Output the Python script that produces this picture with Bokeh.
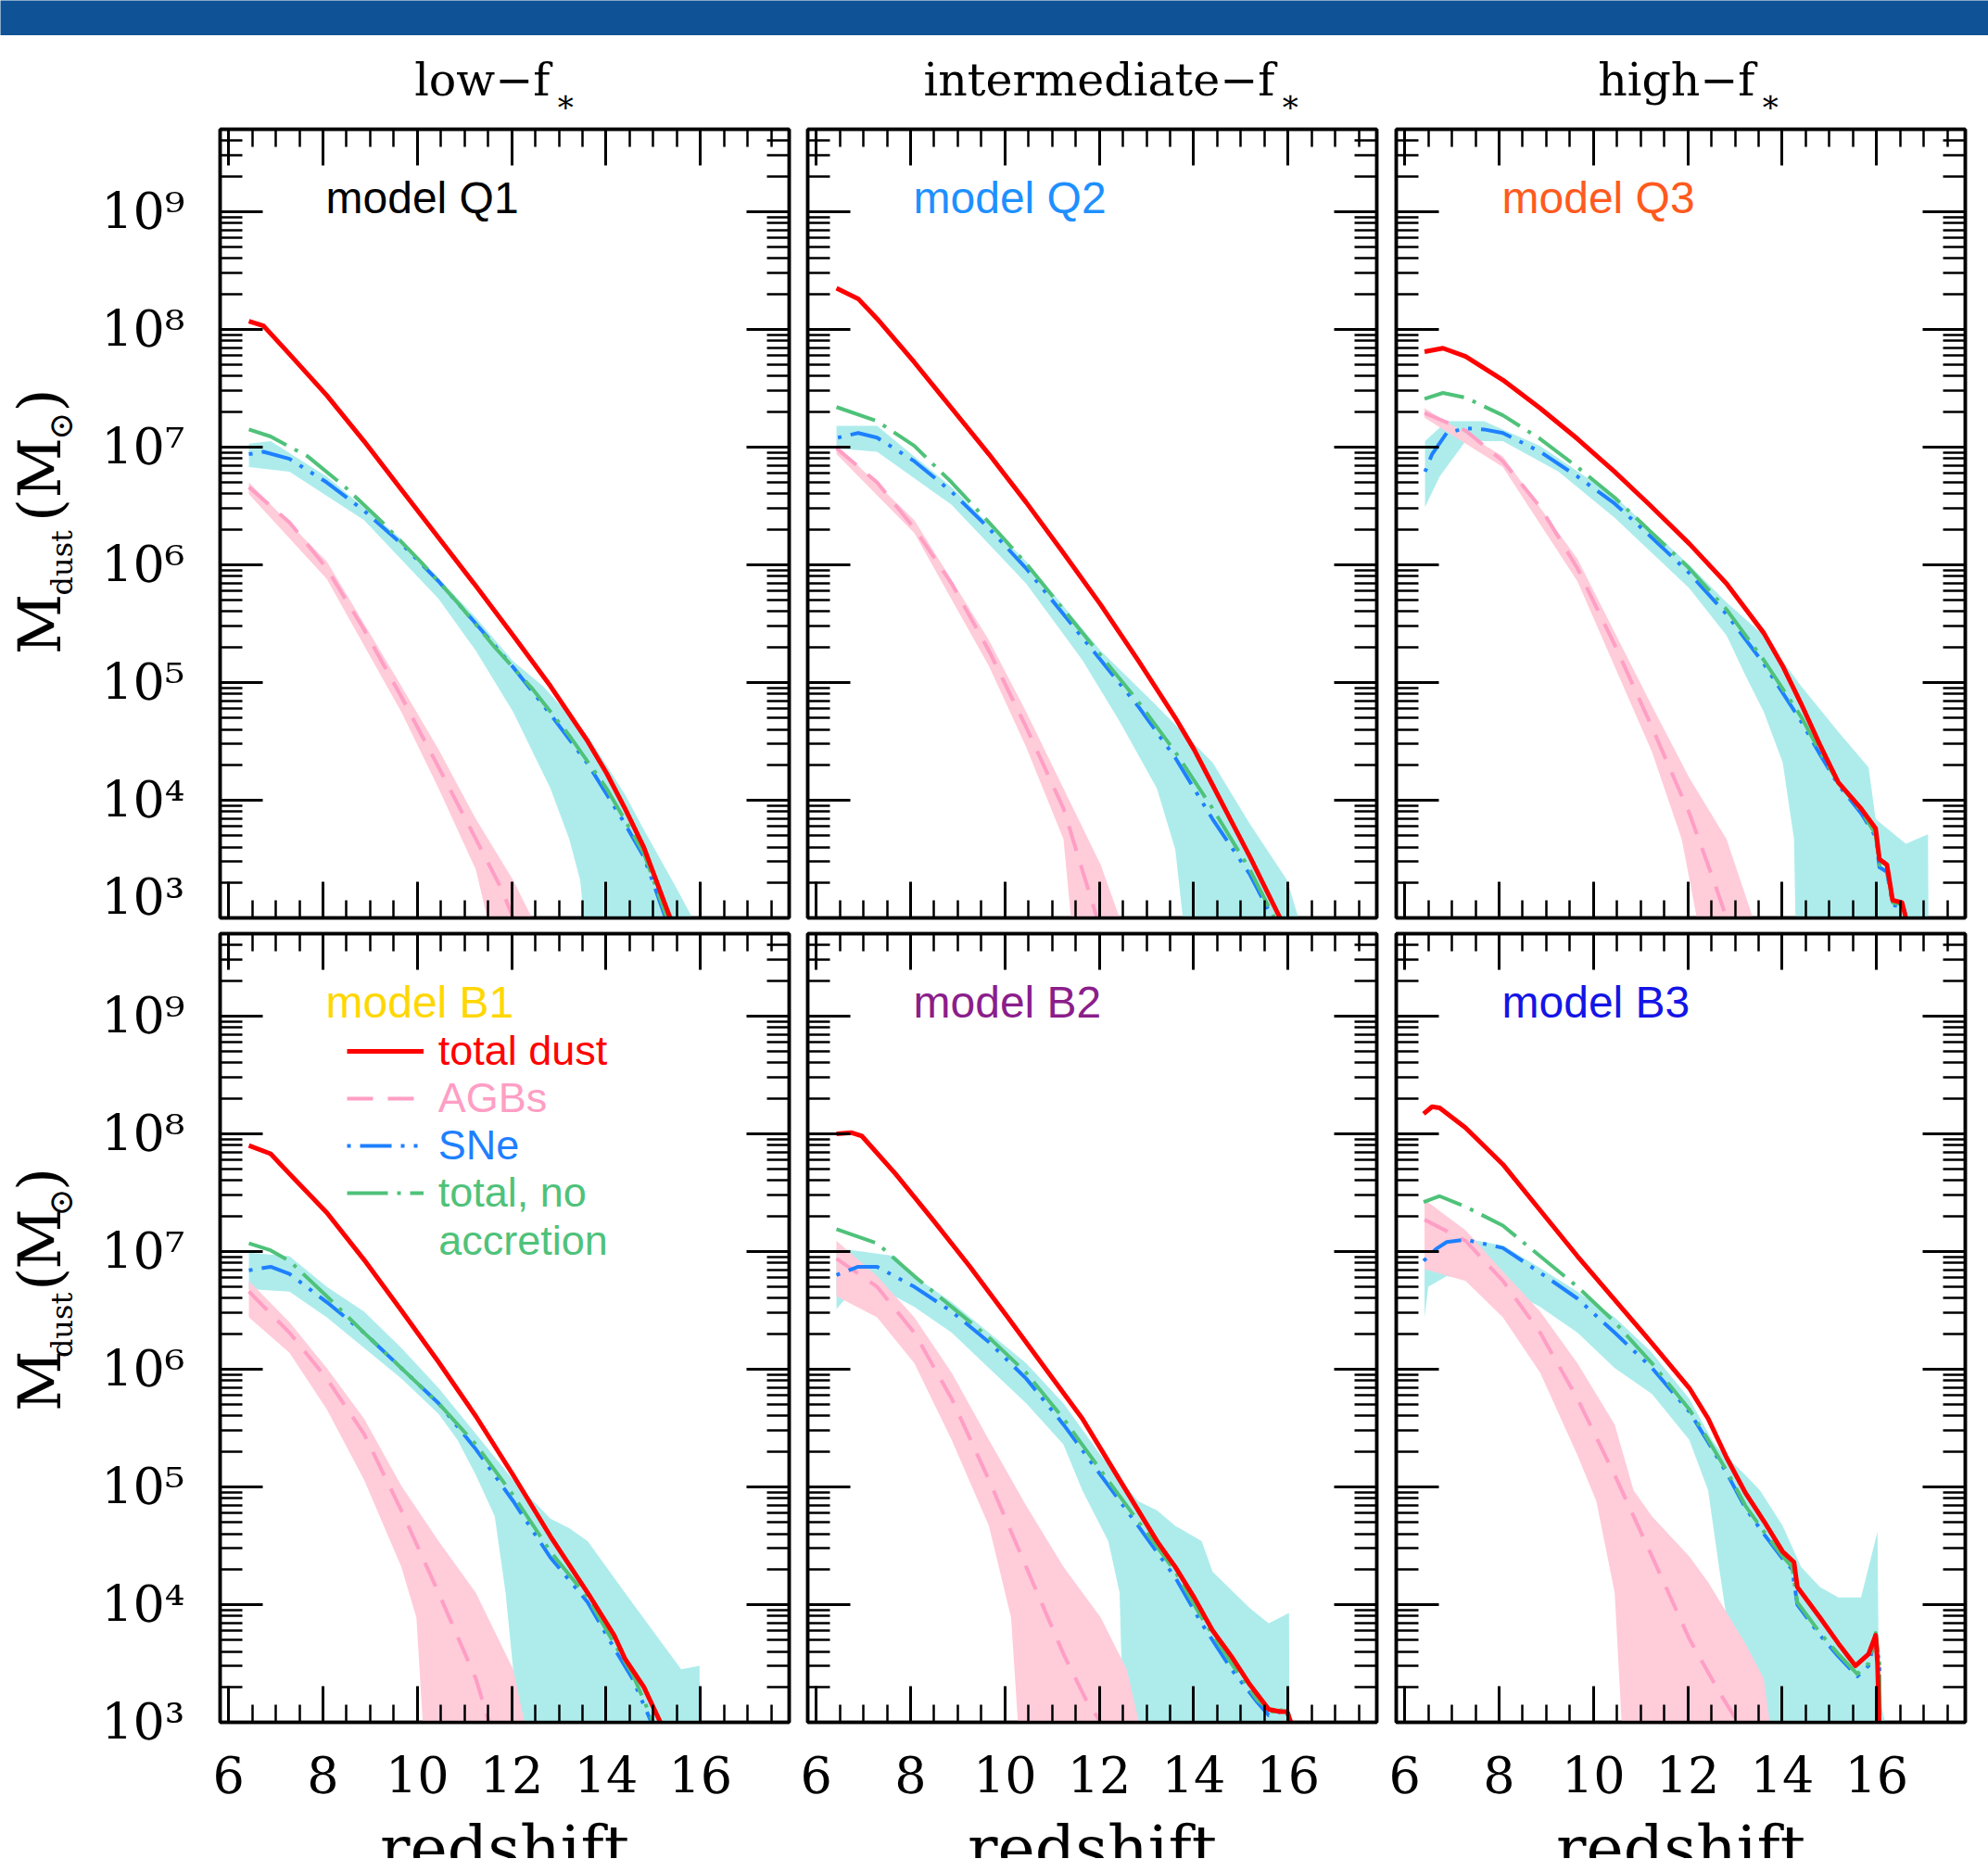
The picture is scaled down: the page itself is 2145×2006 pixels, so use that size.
import numpy as np
from bokeh.plotting import figure
from bokeh.models import (Range1d, LinearAxis, LogAxis, FixedTicker,
                          CustomJSTickFormatter, Label, Legend, LegendItem)
from bokeh.layouts import column, row
from bokeh.embed import file_html
from bokeh.resources import INLINE
from bokeh.core.properties import value

# ---------------- texts / ticks ----------------
COLUMN_TITLES = ["low\u2212f", "intermediate\u2212f", "high\u2212f"]
TITLE_STAR = "\u2217"
MODEL_NAMES = ["model Q1", "model Q2", "model Q3", "model B1", "model B2", "model B3"]
MODEL_COLORS = ["#000000", "#1E90FF", "#FF5A1E", "#FFD700", "#8B1E8B", "#1414E6"]
LEGEND_LABELS = ["total dust", "AGBs", "SNe", "total, no", "accretion"]
X_AXIS_LABEL = "redshift"
Y_LABEL_PARTS = ["M", "dust", "(", "M", "\u2299", ")"]

X_TICKS = [6, 8, 10, 12, 14, 16]
X_MINOR_TICKS = [6.0, 6.5, 7.0, 7.5, 8.0, 8.5, 9.0, 9.5, 10.0, 10.5, 11.0, 11.5,
                 12.0, 12.5, 13.0, 13.5, 14.0, 14.5, 15.0, 15.5, 16.0, 16.5, 17.0, 17.5]
Y_TICK_EXPONENTS = [3, 4, 5, 6, 7, 8, 9]
Y_TICK_LABELS = ["10\u00b3", "10\u2074", "10\u2075", "10\u2076", "10\u2077", "10\u2078", "10\u2079"]

# ---------------- data: (redshift, log10 Mdust/Msun) ----------------
Q1_TOTAL = [(6.43, 8.07), (6.74, 8.03), (7.29, 7.79), (8.08, 7.44), (8.87, 7.05), (9.66, 6.64), (10.45, 6.23),
            (11.24, 5.82), (12.03, 5.40), (12.82, 4.97), (13.61, 4.50), (14.01, 4.23), (14.40, 3.93), (14.80, 3.60),
            (15.45, 2.90)]
Q1_SNE = [(6.43, 6.94), (6.74, 6.96), (7.29, 6.90), (8.08, 6.70), (8.87, 6.46), (9.66, 6.18), (10.45, 5.86),
          (11.24, 5.50), (12.03, 5.13), (12.82, 4.73), (13.61, 4.31), (14.40, 3.80), (14.80, 3.52), (15.35, 2.90)]
Q1_NOACC = [(6.43, 7.15), (6.89, 7.09), (7.68, 6.92), (8.47, 6.66), (9.26, 6.36), (10.06, 6.03), (10.85, 5.68),
            (11.64, 5.30), (12.43, 4.95), (13.22, 4.55), (14.01, 4.10), (14.80, 3.55), (15.38, 2.90)]
Q1_SNE_UP = [(6.43, 7.03), (6.89, 7.05), (8.08, 6.75), (9.66, 6.22), (11.24, 5.55), (12.03, 5.18), (12.66, 4.97),
             (13.61, 4.55), (14.40, 4.05), (14.80, 3.75), (15.51, 3.24), (15.83, 3.00), (15.95, 2.90)]
Q1_SNE_LO = [(6.43, 6.83), (7.29, 6.79), (8.87, 6.38), (10.45, 5.71), (11.24, 5.27), (12.03, 4.75), (12.82, 4.10),
             (13.22, 3.67), (13.45, 3.32), (13.53, 3.00), (13.55, 2.90)]
Q1_AGB = [(6.43, 6.66), (7.29, 6.36), (8.08, 5.97), (8.87, 5.45), (9.66, 4.88), (10.45, 4.28), (11.24, 3.67),
          (11.79, 3.24), (12.03, 3.00), (12.08, 2.90)]
Q1_AGB_UP = [(6.43, 6.70), (8.08, 6.03), (9.66, 4.97), (10.45, 4.43), (11.24, 3.84), (12.03, 3.32), (12.43, 3.00),
             (12.50, 2.90)]
Q1_AGB_LO = [(6.43, 6.60), (8.08, 5.88), (9.66, 4.75), (10.45, 4.10), (11.24, 3.41), (11.48, 3.00), (11.52, 2.90)]

Q2_TOTAL = [(6.43, 8.35), (6.89, 8.26), (7.29, 8.09), (8.08, 7.72), (8.87, 7.33), (9.66, 6.94), (10.45, 6.53),
            (11.24, 6.10), (12.03, 5.66), (12.82, 5.19), (13.61, 4.70), (14.01, 4.43), (14.40, 4.13), (14.80, 3.82),
            (15.19, 3.52), (15.83, 3.00), (15.90, 2.90)]
Q2_NOACC = [(6.43, 7.34), (7.29, 7.22), (8.08, 7.01), (8.87, 6.70), (9.66, 6.36), (10.45, 6.01), (11.24, 5.62),
            (12.03, 5.23), (12.82, 4.84), (13.61, 4.41), (14.40, 3.93), (15.19, 3.41), (15.71, 3.00), (15.78, 2.90)]
Q2_SNE = [(6.46, 7.08), (6.89, 7.12), (7.29, 7.08), (8.08, 6.88), (8.87, 6.62), (9.66, 6.31), (10.45, 5.97),
          (11.24, 5.58), (12.03, 5.19), (12.82, 4.80), (13.61, 4.36), (14.40, 3.84), (15.19, 3.37), (15.67, 3.00),
          (15.74, 2.90)]
Q2_SNE_UP = [(6.43, 7.18), (7.29, 7.18), (8.87, 6.66), (10.45, 6.03), (12.03, 5.27), (13.22, 4.80), (14.40, 4.32),
             (15.19, 3.80), (15.98, 3.32), (16.22, 3.00), (16.30, 2.90)]
Q2_SNE_LO = [(6.43, 6.99), (7.29, 6.96), (8.87, 6.51), (10.45, 5.84), (11.64, 5.19), (12.43, 4.67), (13.22, 4.10),
             (13.61, 3.58), (13.77, 3.00), (13.80, 2.90)]
Q2_AGB = [(6.43, 6.99), (7.29, 6.70), (8.08, 6.31), (8.87, 5.84), (9.66, 5.27), (10.45, 4.62), (11.24, 3.93),
          (11.95, 3.00), (12.00, 2.90)]
Q2_AGB_UP = [(6.43, 7.02), (8.08, 6.38), (9.66, 5.36), (10.45, 4.75), (11.24, 4.10), (12.03, 3.45), (12.43, 3.00),
             (12.50, 2.90)]
Q2_AGB_LO = [(6.43, 6.94), (8.08, 6.27), (9.66, 5.14), (10.45, 4.45), (11.24, 3.67), (11.40, 3.00), (11.43, 2.90)]

Q3_TOTAL = [(6.42, 7.81), (6.81, 7.84), (7.29, 7.77), (8.08, 7.57), (8.87, 7.33), (9.66, 7.07), (10.45, 6.79),
            (11.24, 6.49), (12.03, 6.18), (12.82, 5.84), (13.61, 5.42), (14.01, 5.14), (14.40, 4.82), (14.80, 4.47),
            (15.19, 4.15), (15.67, 3.93), (15.98, 3.76), (16.06, 3.50), (16.22, 3.45), (16.34, 3.15), (16.54, 3.13),
            (16.62, 3.00), (16.63, 2.90)]
Q3_NOACC = [(6.42, 7.41), (6.81, 7.46), (7.29, 7.42), (8.08, 7.27), (8.87, 7.07), (9.66, 6.83), (10.45, 6.57),
            (11.24, 6.27), (12.03, 5.97), (12.82, 5.62), (13.61, 5.19), (14.40, 4.71), (14.80, 4.41), (15.19, 4.15),
            (15.67, 3.91), (15.98, 3.71), (16.06, 3.45), (16.22, 3.41), (16.34, 3.13), (16.58, 3.11), (16.62, 3.00),
            (16.63, 2.90)]
Q3_SNE = [(6.43, 6.79), (6.58, 6.94), (6.89, 7.12), (7.29, 7.16), (7.68, 7.15), (8.08, 7.12), (8.87, 6.96),
          (9.66, 6.75), (10.45, 6.52), (11.24, 6.23), (12.03, 5.93), (12.82, 5.58), (13.61, 5.16), (14.40, 4.67),
          (14.80, 4.39), (15.19, 4.13), (15.67, 3.89), (15.98, 3.69), (16.06, 3.43), (16.22, 3.39), (16.34, 3.11),
          (16.58, 3.09), (16.62, 3.00), (16.63, 2.90)]
Q3_SNE_UP = [(6.43, 7.05), (6.89, 7.22), (7.68, 7.22), (8.87, 7.01), (10.45, 6.58), (12.03, 6.00), (12.82, 5.68),
             (13.61, 5.40), (14.40, 4.97), (15.19, 4.58), (15.83, 4.28), (15.98, 3.84), (16.62, 3.63), (17.09, 3.71),
             (17.10, 2.90)]
Q3_SNE_LO = [(6.43, 6.49), (6.74, 6.75), (7.29, 7.05), (8.08, 7.05), (9.26, 6.79), (10.45, 6.40), (11.24, 6.10),
             (12.03, 5.80), (12.82, 5.40), (13.22, 5.06), (13.61, 4.75), (14.01, 4.32), (14.25, 3.67), (14.28, 3.00),
             (14.29, 2.90)]
Q3_AGB = [(6.42, 7.29), (7.29, 7.14), (8.08, 6.88), (8.87, 6.49), (9.66, 5.97), (10.45, 5.32), (11.24, 4.62),
          (12.03, 3.89), (12.58, 3.28), (12.82, 3.00), (12.86, 2.90)]
Q3_AGB_UP = [(6.42, 7.33), (8.08, 6.92), (9.66, 6.05), (11.24, 4.80), (12.03, 4.19), (12.82, 3.67), (13.38, 3.00),
             (13.42, 2.90)]
Q3_AGB_LO = [(6.42, 7.25), (8.08, 6.83), (9.66, 5.86), (11.24, 4.41), (11.87, 3.67), (12.19, 3.00), (12.21, 2.90)]

B1_TOTAL = [(6.43, 7.90), (6.89, 7.83), (7.29, 7.66), (8.08, 7.33), (8.87, 6.93), (9.66, 6.50), (10.45, 6.06),
            (11.24, 5.60), (12.03, 5.10), (12.82, 4.58), (13.61, 4.10), (14.17, 3.74), (14.40, 3.54), (14.80, 3.30),
            (15.15, 3.00), (15.20, 2.90)]
B1_NOACC = [(6.43, 7.07), (6.89, 7.01), (7.29, 6.92), (8.08, 6.62), (8.87, 6.31), (9.66, 6.01), (10.45, 5.71),
            (11.24, 5.36), (12.03, 4.93), (12.82, 4.45), (13.61, 4.06), (14.17, 3.67), (14.56, 3.41), (15.00, 3.00),
            (15.05, 2.90)]
B1_SNE = [(6.43, 6.84), (6.89, 6.87), (7.29, 6.81), (8.08, 6.57), (8.87, 6.31), (9.66, 6.01), (10.45, 5.71),
          (11.24, 5.32), (12.03, 4.88), (12.82, 4.40), (13.61, 4.02), (14.17, 3.63), (14.56, 3.37), (14.96, 3.00),
          (15.00, 2.90)]
B1_SNE_UP = [(6.43, 6.99), (7.29, 6.96), (8.08, 6.70), (8.87, 6.49), (9.66, 6.18), (10.45, 5.84), (11.24, 5.45),
             (12.03, 5.06), (12.82, 4.73), (13.22, 4.65), (13.61, 4.54), (14.40, 4.10), (15.19, 3.67), (15.59, 3.45),
             (15.98, 3.48), (15.99, 2.90)]
B1_SNE_LO = [(6.43, 6.68), (7.29, 6.66), (8.08, 6.44), (8.87, 6.18), (9.66, 5.92), (10.45, 5.62), (10.85, 5.40),
             (11.24, 5.10), (11.64, 4.75), (11.87, 4.10), (12.03, 3.45), (12.11, 2.90)]
B1_AGB = [(6.43, 6.66), (7.29, 6.31), (8.08, 5.92), (8.87, 5.45), (9.66, 4.80), (10.45, 4.10), (11.24, 3.37),
          (11.52, 3.00), (11.55, 2.90)]
B1_AGB_UP = [(6.43, 6.75), (7.29, 6.40), (8.08, 6.01), (8.87, 5.58), (9.66, 5.01), (10.45, 4.54), (11.24, 4.10),
             (12.03, 3.45), (12.27, 3.00), (12.30, 2.90)]
B1_AGB_LO = [(6.43, 6.44), (7.29, 6.14), (8.08, 5.66), (8.87, 5.06), (9.66, 4.32), (9.98, 3.89), (10.13, 2.90)]

B2_TOTAL = [(6.43, 8.00), (6.74, 8.01), (6.97, 7.98), (7.68, 7.66), (8.47, 7.27), (9.26, 6.87), (10.06, 6.44),
            (10.85, 6.01), (11.64, 5.58), (12.43, 5.06), (13.22, 4.54), (13.61, 4.32), (14.01, 4.06), (14.40, 3.78),
            (14.80, 3.56), (15.19, 3.32), (15.59, 3.11), (15.83, 3.09), (15.98, 3.09), (16.06, 3.00), (16.08, 2.90)]
B2_NOACC = [(6.43, 7.19), (7.29, 7.07), (8.08, 6.79), (8.87, 6.53), (9.66, 6.27), (10.45, 5.97), (11.24, 5.58),
            (12.03, 5.14), (12.82, 4.71), (13.61, 4.28), (14.17, 3.89), (14.80, 3.50), (15.35, 3.19), (15.67, 3.09),
            (15.98, 3.11), (16.06, 3.00), (16.08, 2.90)]
B2_SNE = [(6.43, 6.80), (6.89, 6.87), (7.29, 6.87), (8.08, 6.70), (8.87, 6.49), (9.66, 6.23), (10.45, 5.92),
          (11.24, 5.53), (12.03, 5.10), (12.82, 4.67), (13.61, 4.23), (14.17, 3.84), (14.80, 3.45), (15.35, 3.17),
          (15.59, 3.06), (15.98, 3.11), (16.06, 3.00), (16.08, 2.90)]
B2_SNE_UP = [(6.43, 7.03), (7.68, 6.96), (8.08, 6.79), (8.87, 6.57), (9.66, 6.31), (10.45, 6.05), (11.24, 5.71),
             (12.03, 5.27), (12.82, 4.88), (13.22, 4.80), (13.61, 4.67), (14.17, 4.54), (14.40, 4.28), (15.19, 3.97),
             (15.59, 3.84), (16.02, 3.93), (16.03, 2.90)]
B2_SNE_LO = [(6.43, 6.51), (6.66, 6.62), (7.29, 6.70), (8.08, 6.53), (8.87, 6.31), (9.66, 6.01), (10.45, 5.71),
             (11.24, 5.36), (11.64, 4.97), (12.19, 4.54), (12.43, 4.10), (12.51, 2.90)]
B2_AGB = [(6.43, 6.94), (7.29, 6.70), (8.08, 6.31), (8.87, 5.75), (9.66, 5.06), (10.45, 4.32), (11.24, 3.58),
          (11.72, 3.19), (12.03, 3.00), (12.06, 2.90)]
B2_AGB_UP = [(6.43, 7.09), (7.29, 6.79), (8.08, 6.44), (8.87, 5.97), (9.66, 5.40), (10.45, 4.84), (11.24, 4.32),
             (12.03, 3.89), (12.58, 3.45), (12.90, 2.90)]
B2_AGB_LO = [(6.43, 6.62), (7.29, 6.44), (8.08, 6.05), (8.87, 5.40), (9.66, 4.67), (10.13, 3.89), (10.29, 2.90)]

B3_TOTAL = [(6.40, 8.17), (6.58, 8.23), (6.74, 8.22), (7.29, 8.05), (8.08, 7.74), (8.87, 7.35), (9.66, 6.96),
            (10.45, 6.59), (11.24, 6.22), (12.03, 5.84), (12.43, 5.58), (12.82, 5.25), (13.22, 4.95), (13.61, 4.71),
            (14.01, 4.45), (14.25, 4.36), (14.32, 4.15), (14.80, 3.89), (15.19, 3.67), (15.55, 3.48), (15.83, 3.58),
            (15.98, 3.74), (16.02, 3.50), (16.06, 2.90)]
B3_NOACC = [(6.40, 7.42), (6.74, 7.47), (7.29, 7.38), (8.08, 7.22), (8.87, 6.96), (9.66, 6.70), (10.45, 6.40),
            (11.24, 6.05), (12.03, 5.66), (12.43, 5.40), (12.82, 5.14), (13.22, 4.84), (13.61, 4.62), (14.01, 4.41),
            (14.21, 4.32), (14.32, 4.02), (14.80, 3.76), (15.19, 3.58), (15.59, 3.41), (15.83, 3.50), (15.98, 3.76),
            (16.06, 3.50), (16.07, 2.90)]
B3_SNE = [(6.40, 6.92), (6.66, 7.02), (6.89, 7.08), (7.29, 7.10), (8.08, 7.03), (8.87, 6.82), (9.66, 6.60),
          (10.45, 6.31), (11.24, 6.01), (12.03, 5.64), (12.43, 5.38), (12.82, 5.12), (13.22, 4.82), (13.61, 4.60),
          (14.01, 4.39), (14.21, 4.30), (14.32, 4.00), (14.80, 3.74), (15.19, 3.56), (15.59, 3.39), (15.83, 3.48),
          (15.98, 3.74), (16.06, 3.48), (16.07, 2.90)]
B3_SNE_UP = [(6.42, 6.96), (6.89, 7.14), (8.08, 7.05), (8.87, 6.86), (9.66, 6.66), (10.45, 6.44), (11.24, 6.14),
             (12.03, 5.75), (12.51, 5.40), (12.66, 5.32), (13.22, 5.10), (13.53, 4.97), (14.01, 4.67), (14.40, 4.32),
             (14.80, 4.15), (15.19, 4.06), (15.67, 4.06), (16.02, 4.62), (16.05, 3.20), (16.25, 2.90)]
B3_SNE_LO = [(6.42, 6.44), (6.50, 6.70), (6.89, 6.79), (8.08, 6.70), (8.87, 6.53), (9.66, 6.31), (10.45, 6.01),
             (11.24, 5.79), (12.03, 5.40), (12.43, 4.97), (12.66, 4.32), (12.82, 3.89), (13.22, 3.45), (13.61, 2.90)]
B3_AGB = [(6.42, 7.27), (7.29, 7.09), (8.08, 6.75), (8.87, 6.31), (9.66, 5.75), (10.45, 5.10), (11.24, 4.41),
          (12.03, 3.71), (12.66, 3.26), (13.06, 3.00), (13.10, 2.90)]
B3_AGB_UP = [(6.42, 7.44), (7.29, 7.18), (8.08, 6.83), (8.87, 6.49), (9.66, 6.05), (10.45, 5.53), (10.85, 4.97),
             (11.24, 4.75), (12.03, 4.41), (12.43, 4.19), (13.22, 3.67), (13.61, 3.37), (13.77, 2.90)]
B3_AGB_LO = [(6.42, 6.85), (7.29, 6.75), (8.08, 6.44), (8.87, 5.97), (9.66, 5.27), (10.06, 4.88), (10.45, 4.10),
             (10.61, 2.90)]

PANELS = [
    (Q1_TOTAL, Q1_NOACC, Q1_SNE, Q1_SNE_UP, Q1_SNE_LO, Q1_AGB, Q1_AGB_UP, Q1_AGB_LO),
    (Q2_TOTAL, Q2_NOACC, Q2_SNE, Q2_SNE_UP, Q2_SNE_LO, Q2_AGB, Q2_AGB_UP, Q2_AGB_LO),
    (Q3_TOTAL, Q3_NOACC, Q3_SNE, Q3_SNE_UP, Q3_SNE_LO, Q3_AGB, Q3_AGB_UP, Q3_AGB_LO),
    (B1_TOTAL, B1_NOACC, B1_SNE, B1_SNE_UP, B1_SNE_LO, B1_AGB, B1_AGB_UP, B1_AGB_LO),
    (B2_TOTAL, B2_NOACC, B2_SNE, B2_SNE_UP, B2_SNE_LO, B2_AGB, B2_AGB_UP, B2_AGB_LO),
    (B3_TOTAL, B3_NOACC, B3_SNE, B3_SNE_UP, B3_SNE_LO, B3_AGB, B3_AGB_UP, B3_AGB_LO),
]

# ---------------- styles / layout ----------------
BAR_COLOR = "#0F5296"
RED = "#FF0000"
PINK_LINE = "#FF9EC4"
PINK_BAND = "#FFCCDA"
CYAN_BAND = "#AEECEC"
BLUE = "#1E80FF"
GREEN = "#4FC27A"
SERIF = "DejaVu Serif"
SANS = "Liberation Sans"

X0, X1 = 5.82, 17.88
L0, L1 = 3.0, 9.7
FRAME_W, FRAME_H = 614, 851
PAGE_W = 2145
BAR_H = 38
TITLE_H = 93
YLAB_W = 100
TOP_ROW_H = 868      # 8 + 851 + 9
BOT_ROW_H = 954      # 8 + 851 + 95
XLAB_H = 52
COL_W = [761, 635, 649]
COL_BL = [137, 10, 10]
COL_BR = [10, 11, 25]
FRAME_LEFT = [237, 871, 1506]
LEGEND_FONT = 45
LEGEND_CENTERS = [127, 178, 229, 280, 331]


def px_to_x(px):
    return X0 + px / FRAME_W * (X1 - X0)


def py_to_y(py):
    return 10 ** (L1 - py / FRAME_H * (L1 - L0))


def xy(series):
    return [p[0] for p in series], [10 ** p[1] for p in series]


def band(up, lo):
    xs = [p[0] for p in up] + [p[0] for p in reversed(lo)]
    ys = [10 ** p[1] for p in up] + [10 ** p[1] for p in reversed(lo)]
    return xs, ys


def x_ticker():
    return FixedTicker(ticks=X_TICKS, minor_ticks=X_MINOR_TICKS)


def y_ticker():
    minors = [k * 10.0 ** e for e in range(3, 10) for k in range(2, 10)]
    return FixedTicker(ticks=[10.0 ** e for e in Y_TICK_EXPONENTS], minor_ticks=minors)


def style_axis(ax, ticker, major_len, minor_len, show_labels, kind):
    ax.ticker = ticker
    ax.major_tick_in = major_len
    ax.major_tick_out = 0
    ax.minor_tick_in = minor_len
    ax.minor_tick_out = 0
    ax.major_tick_line_width = 3
    ax.minor_tick_line_width = 2.5
    ax.major_tick_line_color = "black"
    ax.minor_tick_line_color = "black"
    ax.axis_line_width = 3.5
    ax.axis_line_color = "black"
    if show_labels:
        ax.major_label_text_font = SERIF
        ax.major_label_text_font_size = "54px"
        ax.major_label_text_color = "black"
        if kind == "y":
            ax.formatter = CustomJSTickFormatter(
                args=dict(labels=Y_TICK_LABELS),
                code="const k = Math.round(Math.log10(tick)); return labels[k - 3];")
            ax.major_label_standoff = 38
        else:
            ax.major_label_standoff = 36
    else:
        ax.formatter = CustomJSTickFormatter(code="return '';")
        ax.major_label_text_font_size = "1px"
        ax.major_label_standoff = 0


def text_fig(width, height):
    f = figure(width=width, height=height, x_range=Range1d(0, width), y_range=Range1d(0, height),
               x_axis_type=None, y_axis_type=None, toolbar_location=None, output_backend="svg",
               min_border=0, outline_line_color=None,
               background_fill_color="white", border_fill_color="white")
    return f


def make_panel(idx):
    r, c = divmod(idx, 3)
    total, noacc, sne, sne_up, sne_lo, agb, agb_up, agb_lo = PANELS[idx]
    p = figure(width=COL_W[c], height=TOP_ROW_H if r == 0 else BOT_ROW_H,
               x_range=Range1d(X0, X1), y_range=Range1d(10 ** L0, 10 ** L1),
               y_axis_type="log", toolbar_location=None, output_backend="svg",
               min_border_left=COL_BL[c], min_border_right=COL_BR[c],
               min_border_top=8, min_border_bottom=9 if r == 0 else 95,
               background_fill_color="white", border_fill_color="white",
               outline_line_color="black", outline_line_width=3.5)
    p.grid.visible = False

    style_axis(p.xaxis[0], x_ticker(), 39, 19, r == 1, "x")
    style_axis(p.yaxis[0], y_ticker(), 46, 24, c == 0, "y")
    top = LinearAxis()
    style_axis(top, x_ticker(), 39, 19, False, "x")
    p.add_layout(top, "above")
    right = LogAxis()
    style_axis(right, y_ticker(), 46, 24, False, "y")
    p.add_layout(right, "right")

    p.patch(*band(sne_up, sne_lo), fill_color=CYAN_BAND, line_color=None)
    p.patch(*band(agb_up, agb_lo), fill_color=PINK_BAND, line_color=None)
    r_agb = p.line(*xy(agb), line_color=PINK_LINE, line_width=4, line_dash="28 16")
    r_sne = p.line(*xy(sne), line_color=BLUE, line_width=4, line_dash="4 10 34 10 4 10",
                   line_join="round")
    r_noacc = p.line(*xy(noacc), line_color=GREEN, line_width=4, line_dash="44 10 4 10",
                     line_join="round")
    r_tot = p.line(*xy(total), line_color=RED, line_width=5, line_join="round")

    p.add_layout(Label(x=px_to_x(114), y=py_to_y(74), text=MODEL_NAMES[idx],
                       text_font=SANS, text_font_size="48px", text_color=MODEL_COLORS[idx],
                       text_align="left", text_baseline="middle"))

    if idx == 3:
        renderers = [r_tot, r_agb, r_sne, r_noacc]
        colors = [RED, PINK_LINE, BLUE, GREEN]
        half_h = LEGEND_FONT * 1.16 / 2
        for lab, rend, col, cy in zip(LEGEND_LABELS[:4], renderers, colors, LEGEND_CENTERS[:4]):
            leg = Legend(items=[LegendItem(label=lab, renderers=[rend])],
                         location=(136.7, FRAME_H - cy - half_h),
                         glyph_width=83, glyph_height=20, label_standoff=16,
                         padding=0, margin=0, spacing=0,
                         border_line_color=None, background_fill_alpha=0,
                         label_text_font=SANS, label_text_font_size=f"{LEGEND_FONT}px",
                         label_text_color=col)
            p.add_layout(leg)
        p.add_layout(Label(x=px_to_x(235.7), y=py_to_y(LEGEND_CENTERS[4]), text=LEGEND_LABELS[4],
                           text_font=SANS, text_font_size=f"{LEGEND_FONT}px", text_color=GREEN,
                           text_align="left", text_baseline="middle"))
    return p


# blue band at the top
bar = figure(width=PAGE_W, height=BAR_H, x_range=(0, 1), y_range=(0, 1),
             toolbar_location=None, output_backend="svg", min_border=0,
             background_fill_color=BAR_COLOR, border_fill_color=BAR_COLOR,
             outline_line_color=None)
bar.axis.visible = False
bar.grid.visible = False

# column titles
tf = text_fig(PAGE_W, TITLE_H)
title_anchor = [593, 1375, 1893]
tf.text(x=title_anchor, y=[TITLE_H - (86 - BAR_H)] * 3, text=COLUMN_TITLES,
        text_font=value(SERIF), text_font_size=value("49px"), text_color="black",
        text_align=value("right"), text_baseline=value("middle"))
tf.text(x=[a + 5 for a in title_anchor], y=[TITLE_H - (108 - BAR_H)] * 3, text=[TITLE_STAR] * 3,
        text_font=value(SERIF), text_font_size=value("34px"), text_color="black",
        text_align=value("left"), text_baseline=value("middle"))

# y-axis labels (rotated, built from pieces: M_dust (M_sun))
YLAB_PIECES = [(Y_LABEL_PARTS[0], 64, 42, 570), (Y_LABEL_PARTS[1], 32, 66, 505),
               (Y_LABEL_PARTS[2], 64, 42, 424), (Y_LABEL_PARTS[3], 64, 42, 398),
               (Y_LABEL_PARTS[4], 36, 65, 334), (Y_LABEL_PARTS[5], 64, 42, 303)]


def ylabel_fig(height, fig_top, frame_top):
    f = text_fig(YLAB_W, height)
    for txt, size, cx, py in YLAB_PIECES:
        f.text(x=[cx], y=[height - (frame_top + py - fig_top)], text=[txt], angle=np.pi / 2,
               text_font=value(SERIF), text_font_size=value(f"{size}px"), text_color="black",
               text_align=value("left"), text_baseline=value("middle"))
    return f


top_row_top = BAR_H + TITLE_H
bot_row_top = top_row_top + TOP_ROW_H
ylab_top = ylabel_fig(TOP_ROW_H, top_row_top, top_row_top + 8)
ylab_bot = ylabel_fig(BOT_ROW_H, bot_row_top, bot_row_top + 8)

# x-axis labels (cut by the page bottom, as in the original)
xf = text_fig(PAGE_W, XLAB_H)
xf.text(x=[fl + FRAME_W / 2 for fl in FRAME_LEFT], y=[XLAB_H - 1] * 3, text=[X_AXIS_LABEL] * 3,
        text_font=value(SERIF), text_font_size=value("68px"), text_color="black",
        text_align=value("center"), text_baseline=value("top"))

panels = [make_panel(i) for i in range(6)]
layout = column(bar, tf,
                row(ylab_top, *panels[:3]),
                row(ylab_bot, *panels[3:]),
                xf)

open("out.html", "w", encoding="utf-8").write(file_html(layout, INLINE))
